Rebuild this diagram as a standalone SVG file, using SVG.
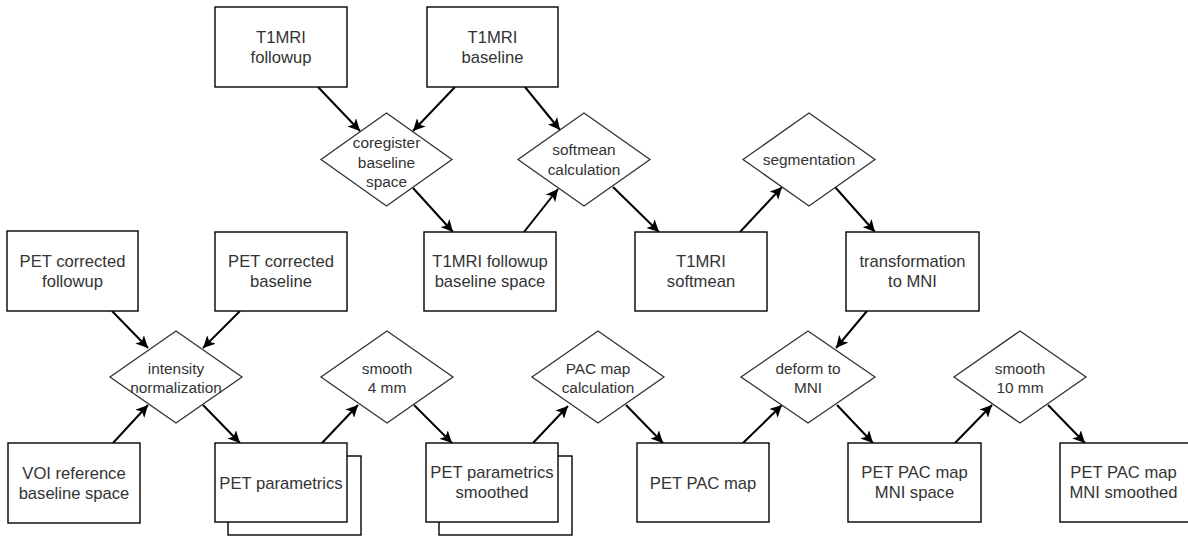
<svg xmlns="http://www.w3.org/2000/svg" width="1188" height="536" viewBox="0 0 1188 536">
<style>
.box{fill:#fff;stroke:#000;stroke-width:1.4}
.dia{fill:#fff;stroke:#333;stroke-width:1.3}
.t{font-family:"Liberation Sans",Arial,sans-serif;font-size:16.6px;fill:#333;text-anchor:middle}
.d{font-family:"Liberation Sans",Arial,sans-serif;font-size:15.4px;fill:#333;text-anchor:middle}
.e{fill:none;stroke:#000;stroke-width:2;marker-end:url(#ah)}
</style>
<defs>
<marker id="ah" markerUnits="userSpaceOnUse" markerWidth="14" markerHeight="12" refX="12" refY="6" orient="auto" viewBox="0 0 14 12">
<path d="M0,0 L12,6 L0,12 L3,6 Z" fill="#000"/>
</marker>
</defs>
<rect width="1188" height="536" fill="#fff"/>

<g id="connectors">
<path class="e" d="M318,87 L360,131"/>
<path class="e" d="M455,87 L413,131"/>
<path class="e" d="M525,87 L560,130"/>
<path class="e" d="M413,188 L453,232"/>
<path class="e" d="M524,232 L558,189"/>
<path class="e" d="M613,187 L659,232"/>
<path class="e" d="M740,232 L782,187"/>
<path class="e" d="M835,187 L875,232"/>
<path class="e" d="M867,311 L836,348"/>
<path class="e" d="M112,311 L148,348"/>
<path class="e" d="M240,311 L203,348"/>
<path class="e" d="M113,443 L148,405"/>
<path class="e" d="M203,405 L240,443"/>
<path class="e" d="M322,443 L358,405"/>
<path class="e" d="M414,405 L452,443"/>
<path class="e" d="M533,443 L568,406"/>
<path class="e" d="M626,405 L663,443"/>
<path class="e" d="M743,443 L782,405"/>
<path class="e" d="M837,405 L873,443"/>
<path class="e" d="M955,443 L992,405"/>
<path class="e" d="M1048,405 L1085,443"/>
</g>

<g id="t1mri-followup">
<rect class="box" x="215" y="7" width="132" height="80"/>
<text class="t" x="281" y="43">T1MRI</text>
<text class="t" x="281" y="63">followup</text>
</g>
<g id="t1mri-baseline">
<rect class="box" x="427" y="7" width="131" height="80"/>
<text class="t" x="492.5" y="43">T1MRI</text>
<text class="t" x="492.5" y="63">baseline</text>
</g>

<g id="coregister">
<polygon class="dia" points="386.5,113 452,159.5 386.5,206 321,159.5"/>
<text class="d" x="386.5" y="148">coregister</text>
<text class="d" x="386.5" y="167.5">baseline</text>
<text class="d" x="386.5" y="187">space</text>
</g>
<g id="softmean-calc">
<polygon class="dia" points="584,113 650,159.5 584,206 518,159.5"/>
<text class="d" x="584" y="155">softmean</text>
<text class="d" x="584" y="174.5">calculation</text>
</g>
<g id="segmentation">
<polygon class="dia" points="809,113 875,159.5 809,206 743,159.5"/>
<text class="d" x="809" y="164.5">segmentation</text>
</g>

<g id="t1mri-fu-bs">
<rect class="box" x="424" y="232" width="132" height="79"/>
<text class="t" x="490" y="267">T1MRI followup</text>
<text class="t" x="490" y="287">baseline space</text>
</g>
<g id="t1mri-softmean">
<rect class="box" x="635" y="232" width="132" height="79"/>
<text class="t" x="701" y="267">T1MRI</text>
<text class="t" x="701" y="287">softmean</text>
</g>
<g id="transformation">
<rect class="box" x="846" y="232" width="133" height="79"/>
<text class="t" x="912.5" y="267">transformation</text>
<text class="t" x="912.5" y="287">to MNI</text>
</g>
<g id="pet-cf">
<rect class="box" x="7" y="231" width="131" height="80"/>
<text class="t" x="72.5" y="267">PET corrected</text>
<text class="t" x="72.5" y="287">followup</text>
</g>
<g id="pet-cb">
<rect class="box" x="215" y="232" width="132" height="79"/>
<text class="t" x="281" y="267">PET corrected</text>
<text class="t" x="281" y="287">baseline</text>
</g>

<g id="intensity">
<polygon class="dia" points="176,331 242,377 176,423 110,377"/>
<text class="d" x="176" y="373.5">intensity</text>
<text class="d" x="176" y="393">normalization</text>
</g>
<g id="smooth4">
<polygon class="dia" points="387,331 453,377 387,423 321,377"/>
<text class="d" x="387" y="373.5">smooth</text>
<text class="d" x="387" y="393">4 mm</text>
</g>
<g id="pac-calc">
<polygon class="dia" points="598,331 664,377 598,423 532,377"/>
<text class="d" x="598" y="373.5">PAC map</text>
<text class="d" x="598" y="393">calculation</text>
</g>
<g id="deform">
<polygon class="dia" points="808,331 875,377 808,423 741,377"/>
<text class="d" x="808" y="373.5">deform to</text>
<text class="d" x="808" y="393">MNI</text>
</g>
<g id="smooth10">
<polygon class="dia" points="1020,331 1086,377 1020,423 954,377"/>
<text class="d" x="1020" y="373.5">smooth</text>
<text class="d" x="1020" y="393">10 mm</text>
</g>

<g id="voi">
<rect class="box" x="8" y="443" width="132" height="80"/>
<text class="t" x="74" y="479">VOI reference</text>
<text class="t" x="74" y="499">baseline space</text>
</g>
<g id="pet-parametrics">
<rect class="box" x="228" y="456" width="133" height="79"/>
<rect class="box" x="215" y="443" width="132" height="79"/>
<text class="t" x="281" y="489">PET parametrics</text>
</g>
<g id="pet-param-smoothed">
<rect class="box" x="439" y="456" width="133" height="79"/>
<rect class="box" x="426" y="443" width="132" height="79"/>
<text class="t" x="492" y="478">PET parametrics</text>
<text class="t" x="492" y="498">smoothed</text>
</g>
<g id="pet-pac-map">
<rect class="box" x="637" y="443" width="132" height="79"/>
<text class="t" x="703" y="489">PET PAC map</text>
</g>
<g id="pet-pac-mni">
<rect class="box" x="848" y="443" width="133" height="79"/>
<text class="t" x="914.5" y="478">PET PAC map</text>
<text class="t" x="914.5" y="498">MNI space</text>
</g>
<g id="pet-pac-mni-smoothed">
<rect class="box" x="1060" y="443" width="132" height="79"/>
<text class="t" x="1123.5" y="478">PET PAC map</text>
<text class="t" x="1123.5" y="498">MNI smoothed</text>
</g>
</svg>
